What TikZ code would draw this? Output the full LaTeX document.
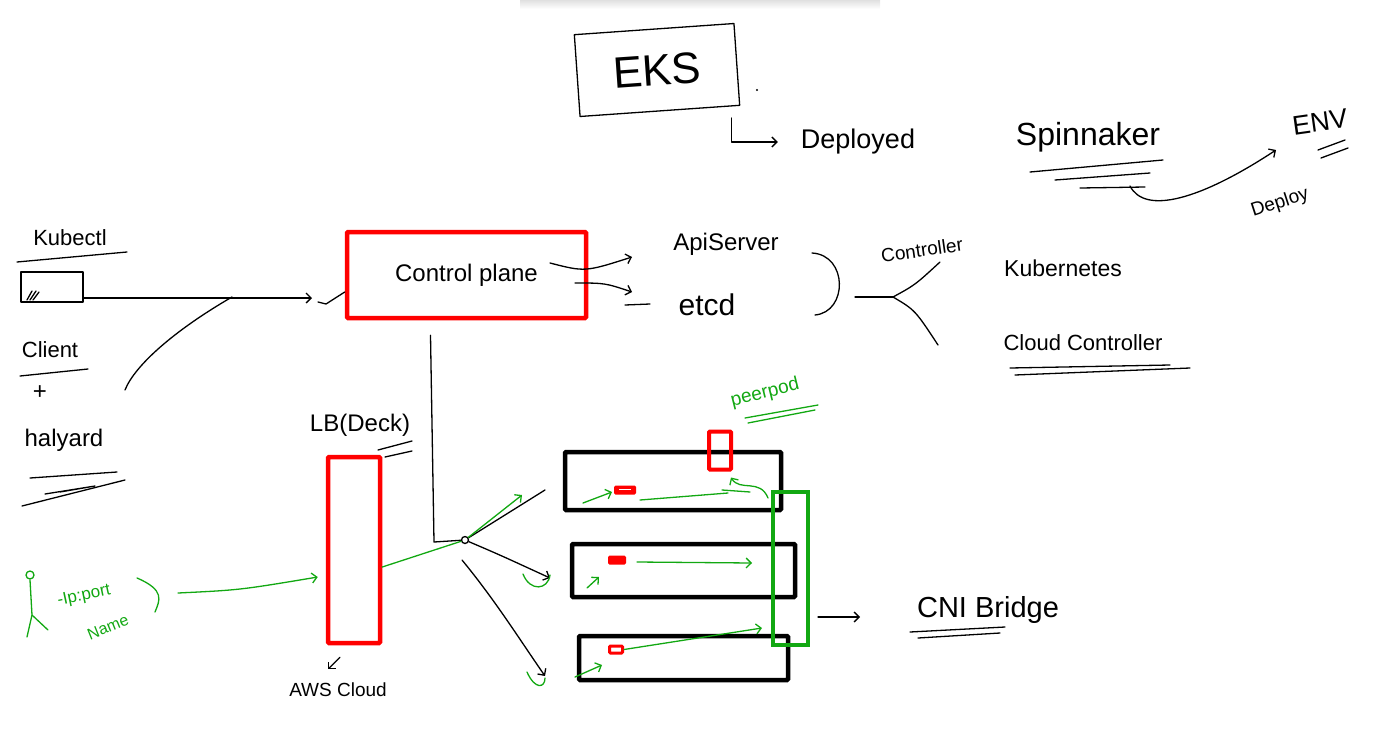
\documentclass[tikz,border=0pt]{standalone}
\usepackage{fontspec}
\setmainfont{Liberation Sans}
\usetikzlibrary{arrows.meta}
\definecolor{pen}{RGB}{18,168,18}
\newcommand{\handsize}[1]{\fontsize{#1}{#1}\selectfont}

\begin{document}
\begin{tikzpicture}[x=1pt, y=-1pt,
    ink/.style={black, line width=1.3pt, line cap=round, line join=round},
    wire/.style={pen, line width=1.3pt, line cap=round, line join=round},
    headed/.style={-{Straight Barb[length=5pt,width=10pt]}},
    hand/.style={inner sep=1pt, font=\handsize{#1}},
    redbox/.style={draw=red, line width=4.5pt, rounded corners=1pt},
    nodebox/.style={draw=black, line width=4.5pt, rounded corners=1pt}]
    \useasboundingbox (0,0) rectangle (1375,734);
    \shade[top color=black!12, bottom color=white] (520,0) rectangle (880,9);

    % EKS title
    \node[draw, ink, rotate=4, minimum width=160pt, minimum height=82pt, hand=44] (eks) at (657,70) {EKS};
    \fill (757,90) circle (1.2pt);
    \node[hand=27] (deployed) at (858,142) {Deployed};
    \draw[ink, headed] ([xshift=-9pt,yshift=-12pt]eks.south east) |- ([xshift=-22pt]deployed.west);

    % Spinnaker deploys to env
    \node[hand=32] (spin) at (1088,137) {Spinnaker};
    \draw[ink] (1030,172) -- (1163,160);
    \draw[ink] (1055,180) -- (1150,173);
    \draw[ink] (1080,188) -- (1145,187);
    \node[hand=27, rotate=8] (env) at (1320,122) {ENV};
    \draw[ink] (1318,150) -- (1345,140);
    \draw[ink] (1321,158) -- (1348,148);
    \coordinate (spinfoot) at (1130,186);
    \coordinate (envin) at (1276,150);
    \draw[ink, headed] (spinfoot) .. controls (1145,215) and (1200,200) .. (envin);
    \node[hand=19, rotate=18] (deploy) at (1280,203) {Deploy};

    % kubectl and halyard
    \node[hand=22] (kubectl) at (70,238) {Kubectl};
    \draw[ink] (17,262) -- (127,252);
    \node[draw, ink, minimum width=62pt, minimum height=30pt] (term) at (52,287) {};
    \draw[ink] (27,300) -- (32,291) (30,300) -- (36,291) (33,300) -- (39,292);
    \node[hand=22] (client) at (50,350) {Client};
    \draw[ink] (20,376) -- (88,369);
    \node[hand=24] (plus) at (40,393) {+};
    \node[hand=24] (halyard) at (64,440) {halyard};
    \draw[ink] (30,478) -- (117,472);
    \draw[ink] (45,494) -- (95,486) -- (60,492);
    \draw[ink] (22,506) -- (125,480);
    \coordinate (cpin) at (312,298);
    \coordinate (merge) at (232,297);
    \coordinate (halout) at (125,390);
    \draw[ink, headed] (term.east |- cpin) -- (cpin);
    \draw[ink] (halout) .. controls (135,365) and (175,330) .. (merge);

    % control plane
    \node[redbox, minimum width=239pt, minimum height=86pt, hand=24] (cp) at (466.5,275) {Control plane};
    \draw[ink] (318,302) -- (326,304) -- (cp.west |- 0,292);
    \node[hand=24] (api) at (726,244) {ApiServer};
    \node[hand=30] (etcd) at (707,305) {etcd};
    \coordinate (cpA) at (550,263);
    \coordinate (cpB) at (575,283);
    \coordinate (apiin) at (632,257);
    \coordinate (etcdin) at (632,292);
    \draw[ink, headed] (cpA) .. controls (585,272) .. (apiin);
    \draw[ink, headed] (cpB) .. controls (605,283) .. (etcdin);
    \draw[ink] (625,305) -- (650,304);
    \draw[ink] (812,253) .. controls (848,255) and (848,312) .. (815,315);

    % controllers
    \node[hand=19, rotate=8] (ctrl) at (922,250) {Controller};
    \coordinate (fork) at (893,297);
    \draw[ink] (855,297) -- (fork);
    \draw[ink] (fork) .. controls (915,285) .. (940,262);
    \draw[ink] (fork) .. controls (915,310) .. (938,345);
    \node[hand=23] (k8s) at (1063,268) {Kubernetes};
    \node[hand=22] (cloudctl) at (1083,343) {Cloud Controller};
    \draw[ink] (1010,368) -- (1170,365);
    \draw[ink] (1015,375) -- (1190,368);

    % load balancer
    \node[hand=24] (lbtext) at (360,425) {LB(Deck)};
    \draw[ink] (378,450) -- (412,441);
    \draw[ink] (385,457) -- (412,451);
    \node[redbox, minimum width=52pt, minimum height=186pt] (lb) at (354,550) {};
    \node[hand=19] (aws) at (338,690) {AWS Cloud};
    \draw[ink, headed] ([xshift=-14pt,yshift=-12pt]lb.south) -- ([xshift=-26pt,yshift=-24pt]lb.south);

    % user
    \draw[wire] (30,575) circle (4);
    \draw[wire] (30,580) -- (32,615) -- (27,637);
    \draw[wire] (32,615) -- (48,630);
    \node[hand=17, text=pen, rotate=12] (ipport) at (84,596) {-Ip:port};
    \node[hand=16, text=pen, rotate=22] (name) at (108,627) {Name};
    \draw[wire] (137,578) .. controls (165,590) and (160,600) .. (155,612);
    \draw[wire, headed] (178,593) .. controls (240,590) .. ([xshift=-8pt,yshift=-27pt]lb.west);

    % worker nodes
    \node[nodebox, minimum width=216pt, minimum height=58pt] (n1) at (673,481) {};
    \node[nodebox, minimum width=223pt, minimum height=53pt] (n2) at (683.5,570.5) {};
    \node[nodebox, minimum width=209pt, minimum height=44pt] (n3) at (683.5,658) {};
    \node[redbox, line width=4pt, minimum width=22pt, minimum height=38pt] (peer) at (720,450.5) {};
    \node[draw=pen, line width=4pt, minimum width=35pt, minimum height=153pt] (cni) at (790.5,568.5) {};
    \node[fill=red, rounded corners=1.5pt, minimum width=22pt, minimum height=9pt, inner sep=0] (pod1) at (625,490) {};
    \draw[white, line width=0.8pt] (619,489) -- (631,489);
    \node[fill=red, rounded corners=1.5pt, minimum width=18pt, minimum height=9pt, inner sep=0] (pod2) at (617,560) {};
    \node[draw=red, line width=3pt, rounded corners=1pt, minimum width=13pt, minimum height=7pt, inner sep=0] (pod3) at (616,649.5) {};
    \node[hand=19, text=pen, rotate=14] (peertext) at (765,393) {peerpod};
    \draw[wire] (745,418) -- (818,405);
    \draw[wire] (748,423) -- (815,410);

    % paths from the control plane
    \node[circle, draw, ink, inner sep=0, minimum size=7pt] (hub) at (465,540) {};
    \coordinate (n1in) at (545,490);
    \coordinate (n2in) at (550,578);
    \coordinate (n3in) at (545,676);
    \draw[ink] ([xshift=-36pt,yshift=-15pt]cp.south) -- (434,542) -- (hub);
    \draw[ink] (hub) -- (n1in);
    \draw[ink, headed] (hub) .. controls (500,555) .. (n2in);
    \draw[ink, headed] (462,560) .. controls (495,600) and (520,640) .. (n3in);
    \draw[wire, headed] ([yshift=-17pt]lb.east) -- (hub) -- (522,495);
    \draw[wire] (523,574) .. controls (530,592) and (548,590) .. (550,575);
    \draw[wire] (527,672) .. controls (535,690) and (545,688) .. (545,678);

    % traffic inside the nodes
    \draw[wire, headed] (583,503) -- (612,492);
    \draw[wire] (640,500) -- (728,493);
    \draw[wire] (722,490) -- (750,492);
    \draw[wire, headed] ([xshift=-3pt,yshift=-8pt]cni.north west) .. controls (760,478) and (740,492) .. ([xshift=-2pt,yshift=-6pt]peer.south east);
    \draw[wire, headed] (587,588) -- (599,577);
    \draw[wire, headed] (637,562) -- (752,563);
    \draw[wire, headed] (575,677) -- (602,665);
    \draw[wire, headed] (pod3.east) -- (762,628);

    % CNI bridge
    \node[hand=29] (cnib) at (988,610) {CNI Bridge};
    \draw[ink, headed] (818,617) -- (860,617);
    \draw[ink] (910,632) -- (1005,627);
    \draw[ink] (918,638) -- (1000,633);
\end{tikzpicture}
\end{document}
